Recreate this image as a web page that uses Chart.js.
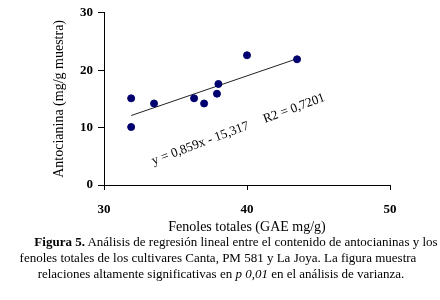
<!DOCTYPE html>
<html>
<head>
<meta charset="utf-8">
<script src="https://cdn.jsdelivr.net/npm/chart.js@4"></script>
<style>
  body { margin: 0; background: #fff; width: 440px; height: 300px; overflow: hidden; }
  #wrap { position: absolute; left: 0; top: 0; width: 440px; height: 237px; }
  #caption {
    position: absolute; left: 0; top: 234px; width: 440px;
    text-align: center; font-family: 'Liberation Serif', 'Times New Roman', serif;
    font-size: 13px; line-height: 16px; color: #000; white-space: nowrap;
  }
  #caption div { position: relative; }
</style>
</head>
<body>
<div id="wrap"><canvas id="chart" width="440" height="237"></canvas></div>
<div id="caption">
  <div style="left: 16px"><b>Figura 5.</b> Análisis de regresión lineal entre el contenido de antocianinas y los</div>
  <div style="left: -2px">fenoles totales de los cultivares Canta, PM 581 y La Joya. La figura muestra</div>
  <div style="left: 1px">relaciones altamente significativas en <i>p 0,01</i> en el análisis de varianza.</div>
</div>
<script>
// valores
const fenoles = [31.9, 31.9, 33.5, 36.3, 37.0, 37.9, 38.0, 40.0, 43.5];
const antocianina = [15.1, 10.1, 14.2, 15.1, 14.2, 15.9, 17.6, 22.6, 21.9];

// extremos de la línea de tendencia
const trendX = [31.9, 43.5];
const trendY = [12.1, 22.0];

const xTicks = [30, 40, 50];
const yTicks = [0, 10, 20, 30];
const ecuacion = 'y = 0,859x - 15,317     R2 = 0,7201';

Chart.defaults.font.family = "'Liberation Serif', 'Times New Roman', serif";
Chart.defaults.color = '#000';

// texto de la ecuación, girado
const ecuacionPlugin = {
  id: 'ecuacion',
  afterDatasetsDraw(chart) {
    const { ctx, scales } = chart;
    const cx = scales.x.getPixelForValue(39.4);
    const cy = scales.y.getPixelForValue(9.7);
    ctx.save();
    ctx.translate(cx, cy);
    ctx.rotate(-20.5 * Math.PI / 180);
    ctx.font = "13px 'Liberation Serif'";
    ctx.fillStyle = '#000';
    ctx.textAlign = 'center';
    ctx.textBaseline = 'middle';
    ctx.fillText(ecuacion, 0, 0);
    ctx.restore();
  }
};

const ctx = document.getElementById('chart').getContext('2d');
const chart = new Chart(ctx, {
  type: 'scatter',
  data: {
    datasets: [
      {
        data: fenoles.map((x, i) => ({ x: x, y: antocianina[i] })),
        backgroundColor: '#00006e',
        borderColor: '#00006e',
        pointRadius: 3.5,
      },
      {
        type: 'line',
        data: trendX.map((x, i) => ({ x: x, y: trendY[i] })),
        borderColor: '#222',
        borderWidth: 1,
        pointRadius: 0,
        fill: false,
      },
    ],
  },
  options: {
    responsive: false,
    animation: false,
    layout: { padding: { top: 8, right: 50, left: 0, bottom: 0 } },
    plugins: {
      legend: { display: false },
      tooltip: { enabled: false },
    },
    scales: {
      x: {
        type: 'linear',
        min: 30,
        max: 50,
        afterBuildTicks: (s) => { s.ticks = xTicks.map(v => ({ value: v })); },
        afterFit: (s) => { s.height = 52; },
        grid: { drawOnChartArea: false, drawTicks: true, tickLength: 5, color: '#000' },
        border: { color: '#000', width: 1 },
        ticks: { padding: 12, font: { size: 13, weight: 'bold' } },
        title: {
          display: true,
          text: 'Fenoles totales (GAE mg/g)',
          font: { size: 14 },
          padding: { top: 0, bottom: 1 },
        },
      },
      y: {
        type: 'linear',
        min: 0,
        max: 30,
        afterBuildTicks: (s) => { s.ticks = yTicks.map(v => ({ value: v })); },
        afterFit: (s) => { s.width = 104; },
        grid: { drawOnChartArea: false, drawTicks: true, tickLength: 6, color: '#000' },
        border: { color: '#000', width: 1 },
        ticks: { padding: 5, font: { size: 13, weight: 'bold' } },
        title: {
          display: true,
          text: 'Antocianina (mg/g muestra)',
          font: { size: 14 },
          padding: { top: 51, bottom: 0 },
        },
      },
    },
  },
  plugins: [ecuacionPlugin],
});
</script>
</body>
</html>
